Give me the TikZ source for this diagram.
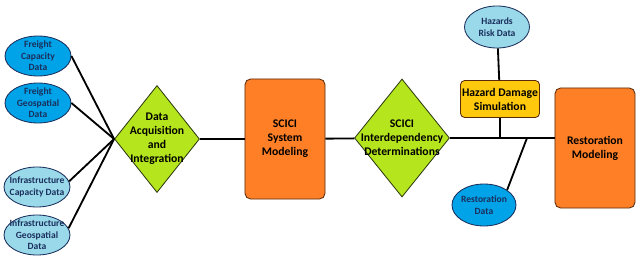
\documentclass[tikz,border=0pt]{standalone}
\usepackage{fontspec}
\setmainfont{Carlito}
\usepackage[dvipsnames,svgnames,x11names]{xcolor}
\definecolor{BlueData}{HTML}{00A2E8}
\definecolor{PaleData}{HTML}{99D9EA}
\definecolor{LimeStep}{HTML}{B5E61D}
\definecolor{OrangeModel}{HTML}{FF7F27}
\definecolor{AmberSim}{HTML}{FFC90E}
\definecolor{NavyInk}{HTML}{1B2F5C}
\definecolor{BrownEdge}{HTML}{5A2A0A}
\definecolor{GreenEdge}{HTML}{2E3A10}
\usetikzlibrary{shapes.geometric, positioning, calc}

\begin{document}
\begin{tikzpicture}[x=0.025cm, y=-0.025cm,
  data/.style={ellipse, draw=NavyInk, line width=0.6pt, inner sep=0pt,
               minimum width=1.65cm, minimum height=1.0cm},
  dlbl/.style={align=center, font=\fontsize{6.8}{8.3}\selectfont\bfseries,
               text=NavyInk, inner sep=0pt},
  dec/.style={diamond, draw=GreenEdge, line width=0.6pt, fill=LimeStep, inner sep=0pt},
  declbl/.style={align=center, font=\fontsize{8.3}{10}\selectfont\bfseries, inner sep=0pt},
  model/.style={rectangle, rounded corners=4pt, draw=BrownEdge, line width=0.6pt,
                fill=OrangeModel, minimum width=2.0cm, minimum height=3.0cm,
                align=center, font=\fontsize{8.3}{10}\selectfont\bfseries},
  sim/.style={rectangle, rounded corners=3pt, draw=BrownEdge, line width=0.6pt,
              fill=AmberSim, minimum width=1.975cm, minimum height=0.925cm,
              align=center, font=\fontsize{8.3}{10}\selectfont\bfseries, inner sep=0pt},
  wire/.style={line width=1.3pt, color=black}
]
\useasboundingbox (0,0) rectangle (640,263);

%% ---- Input data (left column) ----
\node[data, fill=BlueData] (fcap) at (38,56)  {};
\node[dlbl] at (fcap) {Freight\\Capacity\\Data};
\node[data, fill=BlueData] (fgeo) at (38,103) {};
\node[dlbl] at (fgeo) {Freight\\Geospatial\\Data};
\node[data, fill=PaleData] (icap) at (37,187) {};
\node[dlbl] at (icap) {Infrastructure\\Capacity Data};
\node[data, fill=PaleData] (igeo) at (37,235) {};
\node[dlbl] at (igeo) {Infrastructure\\Geospatial\\Data};

%% ---- Main chain (y = 139) ----
\node[dec, minimum width=2.125cm, minimum height=2.675cm] (acq) at (157,139) {};
\node[declbl] at (acq) {Data\\Acquisition\\and\\Integration};
\node[model] (scici) at (285,139) {SCICI\\System\\Modeling};
\node[dec, minimum width=2.375cm, minimum height=2.95cm] (inter) at (402,138) {};
\node[declbl] at (inter) {SCICI\\Interdependency\\Determinations};
\node[model] (restmod) at (595,148) {Restoration\\Modeling};

%% ---- Hazard and restoration branch ----
\node[data, fill=PaleData, minimum width=1.625cm, minimum height=1.05cm] (hazrisk) at (497,27) {};
\node[dlbl] at (hazrisk) {Hazards\\Risk Data};
\node[sim] (hazsim) at (500,99) {Hazard Damage\\Simulation};
\node[data, fill=BlueData, minimum width=1.6cm, minimum height=1.05cm] (restdata) at (484,205) {};
\node[dlbl] at (restdata) {Restoration\\Data};

\coordinate (restin) at (restmod.west |- inter.east);
\coordinate (hazjoin) at (hazsim.south |- inter.east);
\coordinate (restjoin) at (527,138);

%% ---- Connectors ----
\draw[wire] (fcap.east) -- (acq.west);
\draw[wire] (fgeo.east) -- (acq.west);
\draw[wire] (icap.10)   -- (acq.west);
\draw[wire] (igeo.12)   -- (acq.west);
\draw[wire] (acq)   -- (scici);
\draw[wire] (scici) -- (inter);
\draw[wire] (inter.east) -- (restin);
\draw[wire] (hazrisk) -- (hazsim);
\draw[wire] (hazsim.south) -- (hazjoin);
\draw[wire] (restjoin) -- (restdata.33);

\end{tikzpicture}
\end{document}
